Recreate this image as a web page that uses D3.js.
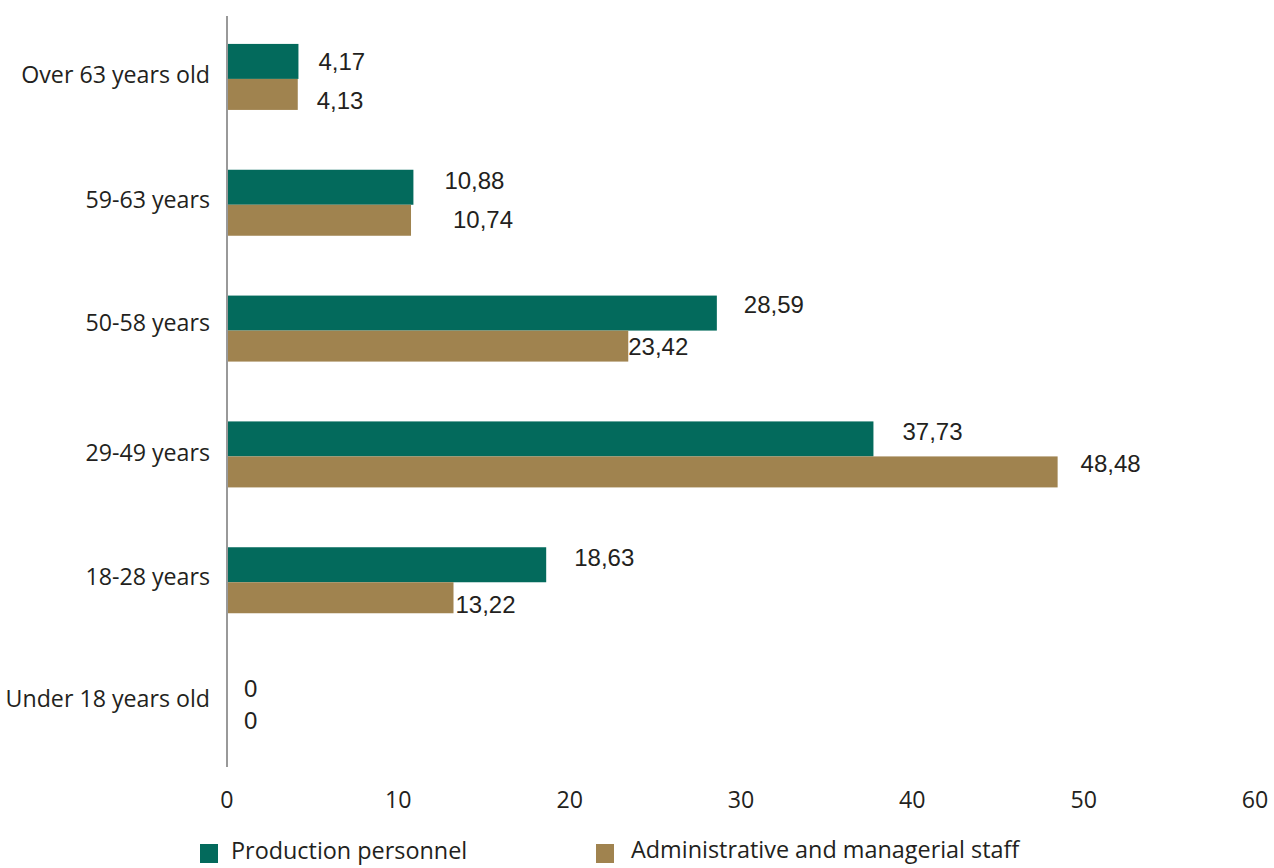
<!DOCTYPE html>
<html>
<head>
<meta charset="utf-8">
<script src="https://cdn.jsdelivr.net/npm/d3@7"></script>
<style>
  html, body { margin: 0; padding: 0; background: #fff; }
  svg { display: block; }
</style>
</head>
<body>
<svg id="chart" width="1274" height="868"></svg>
<script>
// Age groups, top to bottom
const categories = ["Over 63 years old", "59-63 years", "50-58 years", "29-49 years", "18-28 years", "Under 18 years old"];
const seriesNames = ["Production personnel", "Administrative and managerial staff"];
const production = [4.17, 10.88, 28.59, 37.73, 18.63, 0];
const administrative = [4.13, 10.74, 23.42, 48.48, 13.22, 0];
const tickValues = [0, 10, 20, 30, 40, 50, 60];

// Label nudges (dx from bar end, dy from group centre line)
const prodLabelNudge = [[20, -17], [31, -24], [27, -26], [29, -25], [28, -25], [17, -19]];
const adminLabelNudge = [[19, 22], [42, 15], [0, 16], [23, 7], [2, 22], [17, 13]];
const catLabelDy = [-4, -5, -8, -4, -5, -9];

const colors = ["#036a5c", "#a0834f"];
const textColor = "#231f20";
const catFont = "'Open Sans', 'Noto Sans', sans-serif";
const valFont = "'Liberation Sans', Arial, sans-serif";

const svg = d3.select("#chart");

const x = d3.scaleLinear().domain([0, 60]).range([227, 1255]);
const y = d3.scaleBand().domain(categories).range([16, 771]);

const fmt = v => d3.format(".2f")(v).replace(".", ",").replace(/^0,00$/, "0");

// Bars
const groups = svg.append("g").selectAll("g")
  .data(categories)
  .join("g");

groups.append("rect")
  .attr("x", x(0))
  .attr("y", (d) => y(d) + y.bandwidth() / 2 - 35)
  .attr("width", (d, i) => x(production[i]) - x(0))
  .attr("height", 35)
  .attr("fill", colors[0]);

groups.append("rect")
  .attr("x", x(0))
  .attr("y", (d) => y(d) + y.bandwidth() / 2)
  .attr("width", (d, i) => x(administrative[i]) - x(0))
  .attr("height", 31)
  .attr("fill", colors[1]);

// Value labels
groups.append("text")
  .attr("x", (d, i) => x(production[i]) + prodLabelNudge[i][0])
  .attr("y", (d, i) => y(d) + y.bandwidth() / 2 + prodLabelNudge[i][1])
  .attr("dy", "0.35em")
  .attr("font-family", valFont)
  .attr("font-size", 24)
  .attr("fill", textColor)
  .text((d, i) => fmt(production[i]));

groups.append("text")
  .attr("x", (d, i) => x(administrative[i]) + adminLabelNudge[i][0])
  .attr("y", (d, i) => y(d) + y.bandwidth() / 2 + adminLabelNudge[i][1])
  .attr("dy", "0.35em")
  .attr("font-family", valFont)
  .attr("font-size", 24)
  .attr("fill", textColor)
  .text((d, i) => fmt(administrative[i]));

// Category labels
svg.append("g").selectAll("text")
  .data(categories)
  .join("text")
  .attr("x", 210)
  .attr("y", (d, i) => y(d) + y.bandwidth() / 2 + catLabelDy[i])
  .attr("dy", "0.35em")
  .attr("text-anchor", "end")
  .attr("font-family", catFont)
  .attr("font-size", 23.2)
  .attr("fill", textColor)
  .text(d => d);

// Vertical axis line
svg.append("line")
  .attr("x1", x(0)).attr("x2", x(0))
  .attr("y1", 16).attr("y2", 767)
  .attr("stroke", "#999")
  .attr("stroke-width", 2);

// X tick labels
svg.append("g").selectAll("text")
  .data(tickValues)
  .join("text")
  .attr("x", d => x(d))
  .attr("y", 800)
  .attr("dy", "0.35em")
  .attr("text-anchor", "middle")
  .attr("font-family", catFont)
  .attr("font-size", 23.2)
  .attr("fill", textColor)
  .text(d => d);

// Legend
const legendX = [200, 596];
const legend = svg.append("g").selectAll("g")
  .data(seriesNames)
  .join("g")
  .attr("transform", (d, i) => `translate(${legendX[i]},844)`);

legend.append("rect")
  .attr("width", 18).attr("height", 19)
  .attr("fill", (d, i) => colors[i]);

legend.append("text")
  .attr("x", (d, i) => i === 0 ? 31 : 35)
  .attr("y", (d, i) => i === 0 ? 7 : 6)
  .attr("dy", "0.35em")
  .attr("font-family", catFont)
  .attr("font-size", 23.4)
  .attr("fill", textColor)
  .text(d => d);
</script>
</body>
</html>
